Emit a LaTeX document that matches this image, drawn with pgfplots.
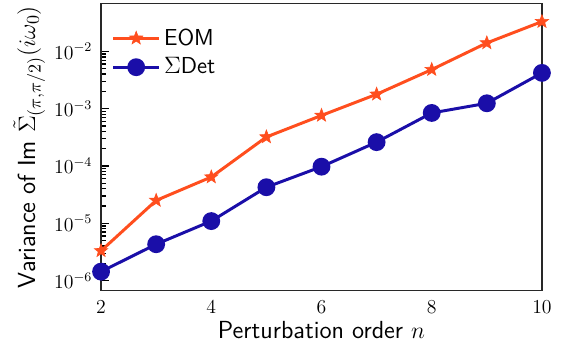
\documentclass[border=0pt,11pt]{standalone}
\usepackage{pgfplots}
\pgfplotsset{compat=1.18}
\usetikzlibrary{plotmarks}
\renewcommand{\familydefault}{\sfdefault}
\definecolor{eomcol}{RGB}{255,78,30}
\definecolor{detcol}{RGB}{26,14,168}
\definecolor{framecol}{RGB}{40,40,40}
% filled five-pointed star
\pgfdeclareplotmark{fstar}{%
  \pgfpathmoveto{\pgfqpointpolar{90}{\pgfplotmarksize}}%
  \pgfpathlineto{\pgfqpointpolar{126}{0.42\pgfplotmarksize}}%
  \pgfpathlineto{\pgfqpointpolar{162}{\pgfplotmarksize}}%
  \pgfpathlineto{\pgfqpointpolar{198}{0.42\pgfplotmarksize}}%
  \pgfpathlineto{\pgfqpointpolar{234}{\pgfplotmarksize}}%
  \pgfpathlineto{\pgfqpointpolar{270}{0.42\pgfplotmarksize}}%
  \pgfpathlineto{\pgfqpointpolar{306}{\pgfplotmarksize}}%
  \pgfpathlineto{\pgfqpointpolar{342}{0.42\pgfplotmarksize}}%
  \pgfpathlineto{\pgfqpointpolar{18}{\pgfplotmarksize}}%
  \pgfpathlineto{\pgfqpointpolar{54}{0.42\pgfplotmarksize}}%
  \pgfpathclose
  \pgfusepathqfillstroke
}
\begin{document}
\begin{tikzpicture}
\begin{axis}[
  name=ax,
  scale only axis,
  width=267.4pt, height=174pt,
  xmin=2, xmax=10,
  ymode=log,
  ymin=6.7e-7, ymax=6.8e-2,
  xtick={2,4,6,8,10},
  ytick={1e-6,1e-5,1e-4,1e-3,1e-2},
  xtick style={draw=none},
  ytick pos=left,
  tick align=inside,
  major tick length=5pt,
  minor tick length=3pt,
  every tick/.style={black, line width=0.8pt},
  axis line style={framecol, line width=0.9pt},
  tick label style={font=\fontsize{12}{14}\selectfont},
  label style={font=\fontsize{15}{17}\selectfont},
  xlabel={Perturbation order $n$},
  ylabel={Variance of Im $\tilde{\Sigma}_{(\pi,\pi/2)}(i\omega_0)$},
  xlabel style={yshift=3pt},
  ylabel style={yshift=-2pt},
  xticklabel style={yshift=-2.5pt},
  yticklabel style={xshift=-1.5pt},
  legend style={draw=none, fill=none, at={(0.012,0.937)}, anchor=north west,
    row sep=2pt, font=\fontsize{14}{16}\selectfont},
  legend cell align=left,
  legend image code/.code={
    \draw[#1] (0pt,0pt) -- (28pt,0pt);
    \draw[#1, only marks] plot coordinates {(14pt,0pt)};
  },
  clip=true,
]
\addplot[color=eomcol, line width=1.8pt, mark=fstar, mark size=4.2pt,
  mark options={fill=eomcol, line width=0.4pt}] coordinates {
  (2,3.3e-6) (3,2.5e-5) (4,6.4e-5) (5,3.2e-4) (6,7.6e-4)
  (7,1.78e-3) (8,4.8e-3) (9,1.40e-2) (10,3.3e-2)
};
\addlegendentry{EOM}
\addplot[color=detcol, line width=1.8pt, mark=*, mark size=4.5pt,
  mark options={fill=detcol, draw=detcol}] coordinates {
  (2,1.43e-6) (3,4.3e-6) (4,1.09e-5) (5,4.25e-5) (6,9.7e-5)
  (7,2.6e-4) (8,8.4e-4) (9,1.24e-3) (10,4.2e-3)
};
\addlegendentry{$\Sigma$Det}
\end{axis}
% white margins beside the frame
\path ([xshift=15.2pt]ax.south east);
\path ([xshift=-4.5pt]ax.outer south west);
\end{tikzpicture}
\end{document}
